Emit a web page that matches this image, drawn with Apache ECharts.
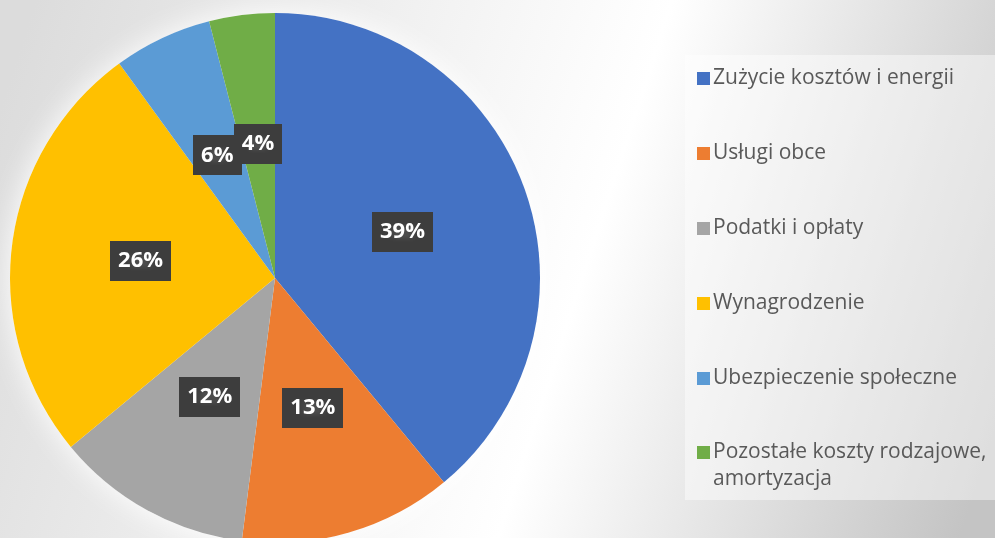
<!DOCTYPE html>
<html>
<head>
<meta charset="utf-8">
<style>
  html, body { margin: 0; padding: 0; }
  #chart { width: 995px; height: 538px; }
</style>
<script src="https://cdn.jsdelivr.net/npm/echarts@6/dist/echarts.min.js"></script>
</head>
<body>
<div id="chart"></div>
<script>
// Cost structure by type (percent shares)
const categories = [
  'Zużycie kosztów i energii',
  'Usługi obce',
  'Podatki i opłaty',
  'Wynagrodzenie',
  'Ubezpieczenie społeczne',
  'Pozostałe koszty rodzajowe, amortyzacja'
];
const shares = [39, 13, 12, 26, 6, 4];
const colors = ['#4472C4', '#ED7D31', '#A5A5A5', '#FFC000', '#5B9BD5', '#70AD47'];

// small dotted texture for the label boxes
function dotPattern() {
  const c = document.createElement('canvas');
  c.width = 6; c.height = 6;
  const g = c.getContext('2d');
  g.fillStyle = '#3d3d3d';
  g.fillRect(0, 0, 6, 6);
  g.fillStyle = '#4c4c4c';
  g.fillRect(2, 2, 2, 2);
  return c;
}
const pattern = dotPattern();

const chart = echarts.init(document.getElementById('chart'));
const center = [275, 278];
const radius = 265;

const legendText = {
  fontFamily: 'Open Sans',
  fontSize: 21,
  color: '#595959',
  lineHeight: 27,
  padding: [0, 0, 0, -2]
};

chart.setOption({
  backgroundColor: {
    type: 'linear', x: 0, y: 0.2, x2: 1, y2: 0.8,
    colorStops: [
      { offset: 0, color: '#dcdcdc' },
      { offset: 0.58, color: '#ffffff' },
      { offset: 1, color: '#c4c4c4' }
    ]
  },
  animation: false,
  // translucent panel behind the legend
  graphic: [{
    type: 'rect',
    z: 0,
    silent: true,
    shape: { x: 685, y: 55, width: 320, height: 445 },
    style: { fill: 'rgba(255,255,255,0.45)' }
  }],
  legend: [
    {
      orient: 'vertical',
      left: 697,
      top: 65,
      padding: 0,
      itemWidth: 13,
      itemHeight: 13,
      itemGap: 48,
      icon: 'rect',
      data: categories.slice(0, 5),
      textStyle: legendText
    },
    {
      // last entry wraps onto two lines; a leading empty line keeps
      // the icon level with the first line of text
      orient: 'vertical',
      left: 697,
      top: 412,
      padding: 0,
      itemWidth: 13,
      itemHeight: 13,
      icon: 'rect',
      data: categories.slice(5),
      formatter: function () {
        return ' \nPozostałe koszty rodzajowe,\namortyzacja';
      },
      textStyle: legendText
    }
  ],
  series: [
    {
      // soft white halo behind the pie
      type: 'pie',
      center: center,
      radius: radius,
      silent: true,
      label: { show: false },
      labelLine: { show: false },
      itemStyle: {
        color: '#ffffff',
        shadowColor: 'rgba(255,255,255,1)',
        shadowBlur: 30
      },
      data: [{ value: 1, name: 'halo' }],
      legendHoverLink: false
    },
    {
      type: 'pie',
      center: center,
      radius: radius,
      startAngle: 90,
      clockwise: true,
      avoidLabelOverlap: false,
      labelLayout: { hideOverlap: false },
      color: colors,
      data: categories.map((n, i) => ({ name: n, value: shares[i] })),
      itemStyle: { borderWidth: 0 },
      label: {
        show: true,
        position: 'inside',
        formatter: '{d}%',
        fontFamily: 'Open Sans',
        fontWeight: 'bold',
        fontSize: 22,
        lineHeight: 25,
        color: '#ffffff',
        backgroundColor: { image: pattern, repeat: 'repeat' },
        padding: [8, 8, 7, 8],
        shadowColor: 'rgba(0,0,0,0.45)',
        shadowBlur: 6,
        shadowOffsetX: 3,
        shadowOffsetY: 3
      },
      labelLine: { show: false }
    }
  ]
});
</script>
</body>
</html>
